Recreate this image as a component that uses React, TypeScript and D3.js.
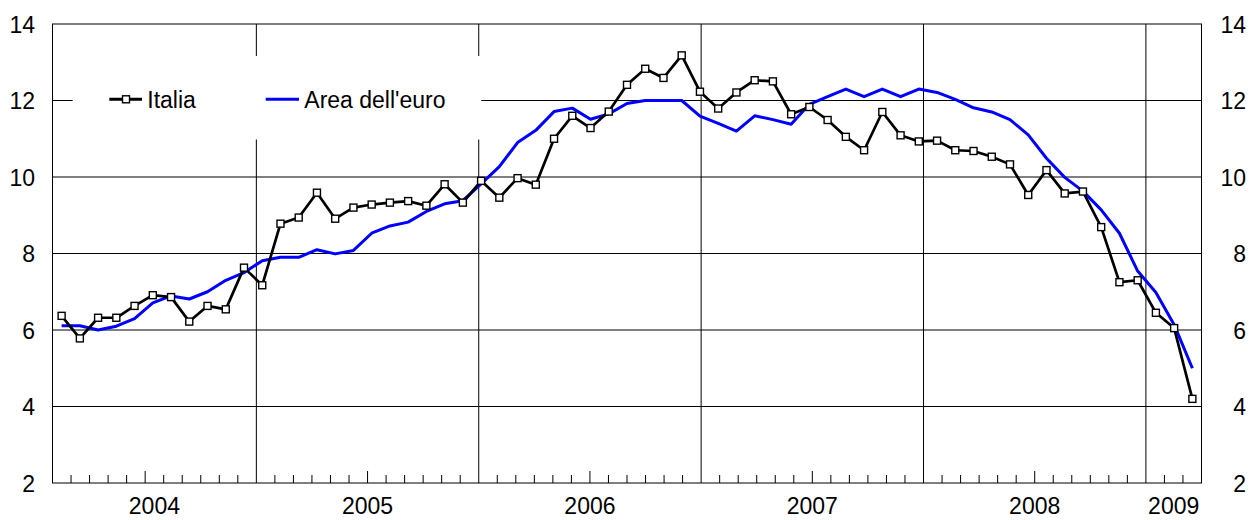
import * as d3 from 'd3';
import React from 'react';

// monthly values, Jan 2004 - Mar 2009
const italia = [
  6.37, 5.78, 6.32, 6.32, 6.63, 6.91, 6.86, 6.22, 6.63, 6.54, 7.63, 7.17,
  8.78, 8.94, 9.59, 8.91, 9.2, 9.28, 9.33, 9.37, 9.25, 9.81, 9.33, 9.9,
  9.46, 9.97, 9.8, 11.0, 11.6, 11.28, 11.71, 12.41, 12.83, 12.59, 13.18, 12.23,
  11.79, 12.21, 12.53, 12.5, 11.64, 11.83, 11.49, 11.05, 10.7, 11.7, 11.09, 10.93,
  10.95, 10.7, 10.68, 10.53, 10.33, 9.53, 10.18, 9.57, 9.62, 8.69, 7.25, 7.3,
  6.45, 6.05, 4.2,
];
const euroArea = [
  6.11, 6.11, 6.0, 6.1, 6.3, 6.71, 6.89, 6.81, 7.0, 7.3, 7.5, 7.81,
  7.9, 7.9, 8.1, 7.99, 8.08, 8.53, 8.72, 8.82, 9.1, 9.3, 9.38, 9.82,
  10.27, 10.9, 11.22, 11.71, 11.8, 11.51, 11.65, 11.92, 12.0, 12.0, 12.0, 11.59,
  11.4, 11.2, 11.6, 11.5, 11.38, 11.9, 12.1, 12.3, 12.1, 12.3, 12.1, 12.3,
  12.21, 12.03, 11.81, 11.7, 11.5, 11.1, 10.49, 9.99, 9.63, 9.14, 8.53, 7.54,
  6.98, 6.14, 5.0,
];
const yTicks = [2, 4, 6, 8, 10, 12, 14];
const years = [2004, 2005, 2006, 2007, 2008, 2009];

const fmt = d3.timeFormat('%Y-%m');
const dataMonths = d3.timeMonth.range(new Date(2004, 0, 1), new Date(2009, 3, 1)).map(fmt);
const axisMonthDates = d3.timeMonth.range(new Date(2004, 1, 1), new Date(2009, 3, 1));
const axisMonths = axisMonthDates.map(fmt);

const FONT = '"Liberation Sans", Arial, sans-serif';

const App = () => {
  const left = 52.5;
  const right = 1201.5;
  const top = 24;
  const bottom = 483;

  const y = d3.scaleLinear().domain([2, 14]).range([bottom, top]);
  const x = d3.scalePoint<string>().domain(dataMonths).range([left, right]).padding(0.5);
  const xAxis = d3.scaleBand<string>().domain(axisMonths).range([left, right]);
  const bw = xAxis.bandwidth();

  const line = d3
    .line<number>()
    .x((_, i) => x(dataMonths[i]) as number)
    .y((d) => y(d));

  const yearLines = axisMonthDates.filter((d) => d.getMonth() === 0 && fmt(d) !== axisMonths[0]);

  const yearLabel = (yr: number) => {
    const ms = axisMonthDates.filter((d) => d.getFullYear() === yr).map(fmt);
    const a = xAxis(ms[0]) as number;
    const b = (xAxis(ms[ms.length - 1]) as number) + bw;
    return (a + b) / 2;
  };

  return (
    <svg width={1250} height={520} style={{ position: 'absolute', left: 0, top: 0 }} fontFamily={FONT}>
      <rect x={0} y={0} width={1250} height={520} fill="#fff" />

      {/* horizontal grid */}
      {yTicks.slice(1, -1).map((t) => (
        <line key={t} x1={left} x2={right} y1={y(t)} y2={y(t)} stroke="#000" strokeWidth={1} />
      ))}

      {/* year lines */}
      {yearLines.map((d) => (
        <line
          key={fmt(d)}
          x1={xAxis(fmt(d))}
          x2={xAxis(fmt(d))}
          y1={top}
          y2={bottom}
          stroke="#000"
          strokeWidth={1}
        />
      ))}

      {/* month ticks */}
      {axisMonthDates.map((d) => {
        const m = d.getMonth();
        if (m === 0) return null;
        const xx = xAxis(fmt(d)) as number;
        const len = m === 6 ? 12 : 8;
        return <line key={fmt(d)} x1={xx} x2={xx} y1={bottom} y2={bottom - len} stroke="#000" strokeWidth={1} />;
      })}

      {/* frame */}
      <rect x={left} y={top} width={right - left} height={bottom - top} fill="none" stroke="#000" strokeWidth={1} />

      {/* legend */}
      <rect x={72.7} y={56} width={408.5} height={83.5} fill="#fff" />
      <line x1={109.3} x2={142} y1={99.3} y2={99.3} stroke="#000" strokeWidth={3} />
      <rect x={122.5} y={95.8} width={7} height={7} fill="#fff" stroke="#000" strokeWidth={1.4} />
      <text x={147.3} y={108.3} fontSize={23} fill="#000">Italia</text>
      <line x1={265.7} x2={299} y1={99.3} y2={99.3} stroke="#0000ff" strokeWidth={3} />
      <text x={304.3} y={108.3} fontSize={23} fill="#000">Area dell'euro</text>

      {/* series */}
      <path d={line(euroArea) ?? ''} fill="none" stroke="#0000ff" strokeWidth={3} strokeLinejoin="round" />
      <path d={line(italia) ?? ''} fill="none" stroke="#000" strokeWidth={2.7} strokeLinejoin="round" />
      {italia.map((v, i) => (
        <rect
          key={i}
          x={(x(dataMonths[i]) as number) - 3.5}
          y={y(v) - 3.5}
          width={7}
          height={7}
          fill="#fff"
          stroke="#000"
          strokeWidth={1.4}
        />
      ))}

      {/* y labels */}
      {yTicks.map((t) => (
        <g key={t} fontSize={23} fill="#000">
          <text x={35} y={y(t) + 8.5} textAnchor="end">{t}</text>
          <text x={1246} y={y(t) + 8.5} textAnchor="end">{t}</text>
        </g>
      ))}

      {/* x labels */}
      {years.map((yr) => (
        <text key={yr} x={yearLabel(yr)} y={bottom + 31} fontSize={23} textAnchor="middle" fill="#000">
          {yr}
        </text>
      ))}
    </svg>
  );
};

export default App;
